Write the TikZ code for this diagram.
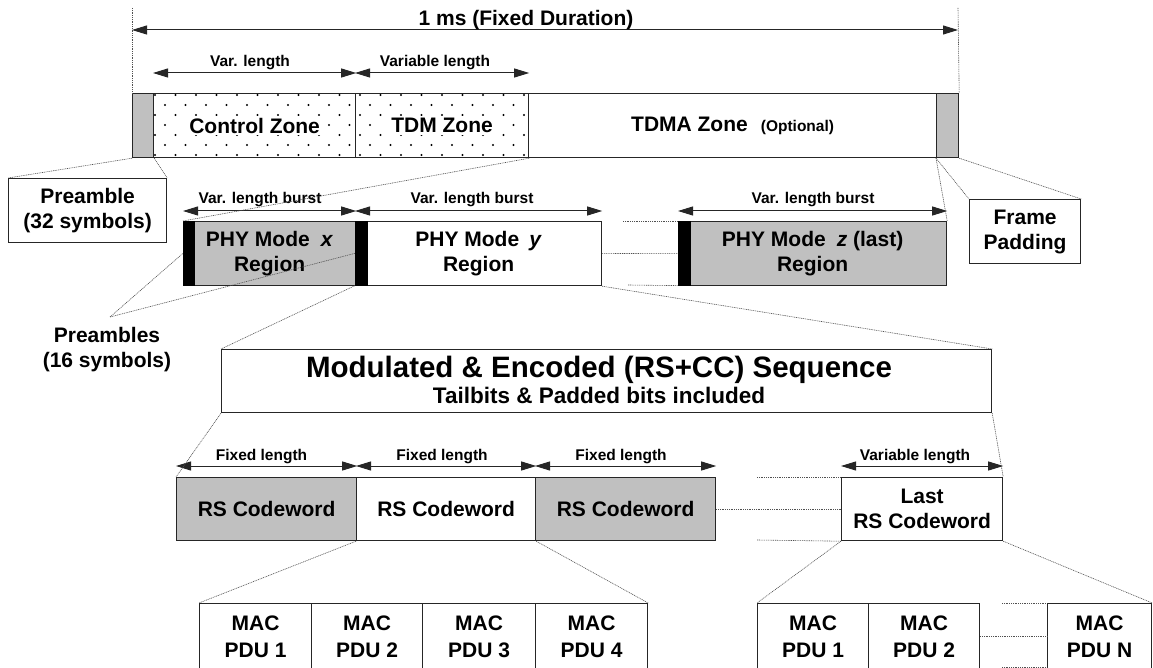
\documentclass[tikz,border=0pt]{standalone}
\usepackage{fontspec}
\setmainfont{Liberation Sans}
\usetikzlibrary{arrows.meta}
\definecolor{gfill}{HTML}{C0C0C0}
\definecolor{edge}{HTML}{262626}
\definecolor{dotc}{HTML}{505050}
\begin{document}
\begin{tikzpicture}[x=1pt,y=-1pt,
  blk/.style={draw=edge, line width=1.2pt, rectangle, inner sep=0pt, anchor=north west, align=center},
  grey/.style={fill=gfill},
  prebar/.style={fill=black, draw=black, line width=0.6pt, rectangle, inner sep=0pt, anchor=north west},
  txtL/.style={font=\fontsize{21}{25}\selectfont\bfseries, align=center},
  txtM/.style={font=\fontsize{21}{27}\selectfont\bfseries, align=center},
  txtS/.style={font=\fontsize{15.5}{18}\selectfont\bfseries, inner sep=0pt, anchor=base},
  dim/.style={line width=1pt, draw=edge, {Triangle[length=15pt,width=9pt]}-{Triangle[length=15pt,width=9pt]}},
  zoomline/.style={line width=0.6pt, draw=dotc, dash pattern=on 1pt off 0.8pt},
  gapline/.style={line width=0.6pt, draw=dotc, dash pattern=on 1pt off 0.8pt},
]
\useasboundingbox (0,0) rectangle (1153,668);
\clip (0,0) rectangle (1153,668);

% ---------- top frame ----------
\node[blk,grey,minimum width=21pt,minimum height=64pt] (fpre) at (132,93) {};
\node[blk,minimum width=202pt,minimum height=64pt] (ctl) at (153,93) {};
\node[blk,minimum width=173pt,minimum height=64pt] (tdm) at (355,93) {};
\node[blk,minimum width=408pt,minimum height=64pt] (tdma) at (528,93) {};
\node[blk,grey,minimum width=22pt,minimum height=64pt] (fpad) at (936,93) {};

\begin{scope}
  \clip (ctl.north west) rectangle (tdm.south east);
  \foreach \r in {0,...,6} {
    \pgfmathsetmacro\yy{95+10*\r}
    \pgfmathsetmacro\xo{ifthenelse(mod(\r,2)==0,155,165)}
    \foreach \k in {0,...,18} {
      \fill[black] (\xo+20.5*\k,\yy) circle (1.1pt);
    }
  }
\end{scope}

\node[txtL, fill=white, inner xsep=6pt, inner ysep=2pt] (ctlt) at (ctl.center) {Control Zone};
\node[txtL, fill=white, inner xsep=6pt, inner ysep=2pt] (tdmt) at (tdm.center) {TDM Zone};
\node[txtL] (tdmat) at (tdma.center) {TDMA Zone\hspace{13pt}{\fontsize{15.5}{18}\selectfont (Optional)}};

\coordinate (vl) at (132,8);
\coordinate (vr) at (958,8);
\draw[zoomline] (vl) -- (fpre.north west);
\draw[zoomline] (vr) -- (fpad.north east);
\coordinate (msl) at (132,30);
\coordinate (msr) at (958,30);
\draw[dim] (msl) -- (msr);
\node[font=\fontsize{21}{25}\selectfont\bfseries, anchor=base, inner sep=0pt] (mst) at (526,26) {1 ms (Fixed Duration)};

\draw[dim] ([yshift=20pt]ctl.north west) -- ([yshift=20pt]ctl.north east);
\draw[dim] ([yshift=20pt]tdm.north west) -- ([yshift=20pt]tdm.north east);
\node[txtS] (ctll) at (250,67) {Var. length};
\node[txtS] (tdml) at (435,67) {Variable length};

% ---------- callouts of frame ----------
\node[blk, txtL, minimum width=158pt, minimum height=64pt] (pbox) at (8,178) {Preamble\\(32 symbols)};
\node[blk, txtL, minimum width=111pt, minimum height=64pt] (fp) at (969,199) {Frame\\Padding};
\draw[zoomline] (fpre.south west) -- (pbox.north west);
\draw[zoomline] (fpre.south east) -- (pbox.north east);
\draw[zoomline] (fpad.south west) -- (fp.north west);
\draw[zoomline] (fpad.south east) -- (fp.north east);

% ---------- PHY bursts ----------
\node[blk, grey, txtL, minimum width=172pt, minimum height=64pt] (bx) at (183,221) {PHY Mode\hspace{11pt}\textit{x}\\Region};
\node[prebar, minimum width=11pt, minimum height=64pt] (bxp) at (bx.north west) {};
\node[blk, txtL, minimum width=246pt, minimum height=64pt] (py) at (355,221) {PHY Mode\hspace{10pt}\textit{y}\\Region};
\node[prebar, minimum width=12pt, minimum height=64pt] (pyp) at (py.north west) {};
\node[blk, grey, txtL, minimum width=268pt, minimum height=64pt] (pz) at (678,221) {PHY Mode\hspace{11pt}\textit{z} (last)\\Region};
\node[prebar, minimum width=12pt, minimum height=64pt] (pzp) at (pz.north west) {};

\draw[dim] ([yshift=10pt]bx.north west) -- ([yshift=10pt]bx.north east);
\draw[dim] ([yshift=10pt]py.north west) -- ([yshift=10pt]py.north east);
\draw[dim] ([yshift=10pt]pz.north west) -- ([yshift=10pt]pz.north east);
\node[txtS] (bxl) at (260,204) {Var. length burst};
\node[txtS] (pyl) at (472,204) {Var. length burst};
\node[txtS] (pzl) at (813,204) {Var. length burst};

\draw[zoomline] (tdm.south east) -- (bxp.north west);
\draw[zoomline] (fpad.south west) -- (pz.north east);

\coordinate (g1) at (623,221);
\coordinate (g3) at (628,285);
\draw[gapline] (g1) -- (pzp.north west);
\draw[gapline] (py.east) -- (pzp.west);
\draw[gapline] (g3) -- (pzp.south west);

\node[txtL] (prel) at (107,350) {Preambles\\(16 symbols)};
\coordinate (pra) at (110,317);
\draw[zoomline] (pra) -- (bxp.west);
\draw[zoomline] (pra) -- (pyp.west);

% ---------- modulated sequence ----------
\node[blk, minimum width=770pt, minimum height=63pt] (mod) at (221,349) {};
\node[font=\fontsize{29.5}{30}\selectfont\bfseries, anchor=base, inner sep=0pt] (modt) at (599,377) {Modulated \& Encoded (RS+CC) Sequence};
\node[font=\fontsize{22.5}{25}\selectfont\bfseries, anchor=base, inner sep=0pt] (mods) at (599,403) {Tailbits \& Padded bits included};
\draw[zoomline] (pyp.south west) -- (mod.north west);
\draw[zoomline] (py.south east) -- (mod.north east);

% ---------- RS codewords ----------
\node[blk, grey, txtL, minimum width=180pt, minimum height=63pt] (rs1) at (176,477) {RS Codeword};
\node[blk, txtL, minimum width=179pt, minimum height=63pt] (rs2) at (356,477) {RS Codeword};
\node[blk, grey, txtL, minimum width=180pt, minimum height=63pt] (rs3) at (535,477) {RS Codeword};
\node[blk, txtL, minimum width=161pt, minimum height=63pt] (rsl) at (841,477) {Last\\RS Codeword};

\draw[dim] ([yshift=11pt]rs1.north west) -- ([yshift=11pt]rs1.north east);
\draw[dim] ([yshift=11pt]rs2.north west) -- ([yshift=11pt]rs2.north east);
\draw[dim] ([yshift=11pt]rs3.north west) -- ([yshift=11pt]rs3.north east);
\draw[dim] ([yshift=11pt]rsl.north west) -- ([yshift=11pt]rsl.north east);
\node[txtS] (rs1l) at (261.5,460) {Fixed length};
\node[txtS] (rs2l) at (442,460) {Fixed length};
\node[txtS] (rs3l) at (621,460) {Fixed length};
\node[txtS] (rsll) at (915,460) {Variable length};

\draw[zoomline] (mod.south west) -- (rs1.north west);
\draw[zoomline] (mod.south east) -- (rsl.north east);

\coordinate (h1) at (757,477);
\coordinate (h3) at (757,540);
\draw[gapline] (h1) -- (rsl.north west);
\draw[gapline] (rs3.east) -- (rsl.west);
\draw[gapline] (h3) -- (rsl.south west);

% ---------- MAC PDUs ----------
\node[blk, txtM, minimum width=112pt, minimum height=66pt] (m1) at (199,603) {MAC\\PDU 1};
\node[blk, txtM, minimum width=111pt, minimum height=66pt] (m2) at (311,603) {MAC\\PDU 2};
\node[blk, txtM, minimum width=113pt, minimum height=66pt] (m3) at (422,603) {MAC\\PDU 3};
\node[blk, txtM, minimum width=112pt, minimum height=66pt] (m4) at (535,603) {MAC\\PDU 4};
\node[blk, txtM, minimum width=111pt, minimum height=66pt] (n1) at (757,603) {MAC\\PDU 1};
\node[blk, txtM, minimum width=111pt, minimum height=66pt] (n2) at (868,603) {MAC\\PDU 2};
\node[blk, txtM, minimum width=104pt, minimum height=66pt] (nN) at (1047,603) {MAC\\PDU N};

\draw[zoomline] (rs2.south west) -- (m1.north west);
\draw[zoomline] (rs2.south east) -- (m4.north east);
\draw[zoomline] (rsl.south west) -- (n1.north west);
\draw[zoomline] (rsl.south east) -- (nN.north east);

\coordinate (k1) at (1002,603);
\coordinate (k3) at (1002,667);
\draw[gapline] (k1) -- (nN.north west);
\draw[gapline] (n2.east) -- (nN.west);
\draw[gapline] (k3) -- (k3 -| nN.west);
\end{tikzpicture}
\end{document}
